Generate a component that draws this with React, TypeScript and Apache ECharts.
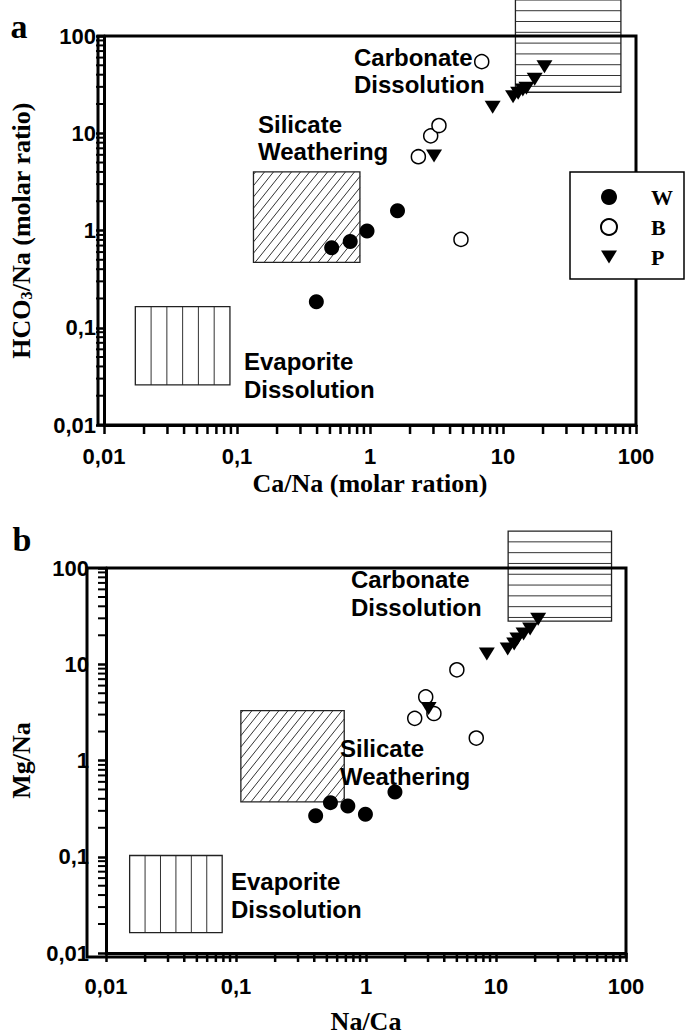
import React, { useEffect, useRef } from "react";
import * as echarts from "echarts";

// ---------- Panel a : HCO3/Na vs Ca/Na ----------
const aW_x = [0.395, 0.515, 0.71, 0.95, 1.61];
const aW_y = [0.185, 0.665, 0.77, 0.99, 1.6];
const aB_x = [2.31, 2.86, 3.3, 4.83, 6.92];
const aB_y = [5.74, 9.4, 12.0, 0.81, 54.5];
const aP_x = [3.03, 8.36, 11.9, 13.0, 14.1, 15.0, 17.3, 20.5];
const aP_y = [5.84, 18.5, 23.8, 25.8, 27.9, 29.0, 35.9, 48.3];

// ---------- Panel b : Mg/Na vs Na/Ca ----------
const bW_x = [0.41, 0.533, 0.725, 0.99, 1.67];
const bW_y = [0.266, 0.365, 0.337, 0.277, 0.471];
const bB_x = [2.37, 2.88, 3.33, 5.0, 7.05];
const bB_y = [2.74, 4.58, 3.08, 8.75, 1.71];
const bP_x = [3.03, 8.5, 12.3, 13.8, 14.6, 16.3, 18.3, 21.1];
const bP_y = [3.47, 12.8, 14.4, 16.2, 18.3, 20.6, 23.2, 29.4];

// end-member regions: [xMin, xMax, yMin, yMax, pattern] pattern 0=horizontal,1=diagonal,2=vertical
const regionNames = ["Carbonate", "Silicate", "Evaporite"];
const aRegions = [
  [12.4, 77, 26.4, 235, 0],
  [0.133, 0.84, 0.47, 4.0, 1],
  [0.0172, 0.0885, 0.0258, 0.165, 2],
];
const bRegions = [
  [12.4, 77.4, 28, 242, 0],
  [0.109, 0.68, 0.372, 3.29, 1],
  [0.0152, 0.0783, 0.0163, 0.103, 2],
];

// axis ticks
const tickValues = [0.01, 0.1, 1, 10, 100];
const tickLabels = ["0,01", "0,1", "1", "10", "100"];
const minorDecades = [0.01, 0.1, 1, 10];
const minorMultipliers = [2, 3, 4, 5, 6, 7, 8, 9];

const seriesNames = ["W", "B", "P"];

const SANS = "Liberation Sans";
const SERIF = "Liberation Serif";

const zip = (xs: number[], ys: number[]) => xs.map((x, i) => [x, ys[i]]);

const minorValues: number[] = [];
minorDecades.forEach((d) => minorMultipliers.forEach((m) => minorValues.push(+(d * m).toPrecision(3))));

function renderRegion(params: any, api: any) {
  const x0 = api.value(0), x1 = api.value(1), y0 = api.value(2), y1 = api.value(3), pat = api.value(4);
  const tl = api.coord([x0, y1]);
  const br = api.coord([x1, y0]);
  const left = tl[0], top = tl[1], right = br[0], bottom = br[1];
  const w = right - left, h = bottom - top;
  const ls = { stroke: "#333", lineWidth: 1 };
  const children: any[] = [];
  if (pat === 0) {
    for (let y = top + 10.8; y < bottom - 2; y += 10.8) {
      children.push({ type: "line", shape: { x1: left, y1: y, x2: right, y2: y }, style: ls });
    }
  } else if (pat === 2) {
    for (let i = 1; i < 6; i++) {
      const x = left + (w * i) / 6;
      children.push({ type: "line", shape: { x1: x, y1: top, x2: x, y2: bottom }, style: ls });
    }
  } else {
    const r = 0.8;
    const s = 9;
    for (let c = left - h * r + 2; c < right; c += s) {
      let sx: number, sy: number, ex: number, ey: number;
      if (c >= left) { sx = c; sy = bottom; } else { sx = left; sy = bottom - (left - c) / r; }
      if (c + h * r <= right) { ex = c + h * r; ey = top; } else { ex = right; ey = bottom - (right - c) / r; }
      children.push({ type: "line", shape: { x1: sx, y1: sy, x2: ex, y2: ey }, style: ls });
    }
  }
  children.push({
    type: "rect",
    shape: { x: left, y: top, width: w, height: h },
    style: { fill: "none", stroke: "#222", lineWidth: 1.3 },
  });
  return { type: "group", children };
}

function renderXMinor(params: any, api: any) {
  const p = api.coord([api.value(0), api.value(1)]);
  return { type: "line", shape: { x1: p[0], y1: p[1], x2: p[0], y2: p[1] + 9 }, style: { stroke: "#000", lineWidth: 2.5 } };
}
function renderYMinor(params: any, api: any) {
  const p = api.coord([api.value(0), api.value(1)]);
  return { type: "line", shape: { x1: p[0], y1: p[1], x2: p[0] - 8, y2: p[1] }, style: { stroke: "#000", lineWidth: 2 } };
}

const labelFmt = (v: number) => {
  const i = Math.round(Math.log10(v)) + 2;
  return tickLabels[i] ?? "";
};

function makeXAxis(gridIndex: number, name: string, labelMargin: number, nameGap: number) {
  return {
    type: "log",
    logBase: 10,
    gridIndex,
    min: tickValues[0],
    max: tickValues[tickValues.length - 1],
    name,
    nameLocation: "middle",
    nameGap,
    nameTextStyle: { fontFamily: SERIF, fontWeight: "bold", fontSize: 26, color: "#000" },
    axisLine: { show: true, lineStyle: { color: "#000", width: 3 } },
    axisTick: { show: true, inside: false, length: 9, lineStyle: { color: "#000", width: 2.5 } },
    minorTick: { show: false },
    splitLine: { show: false },
    axisLabel: {
      formatter: labelFmt,
      margin: labelMargin,
      fontFamily: SANS,
      fontWeight: "bold",
      fontSize: 22,
      color: "#000",
      showMinLabel: true,
      showMaxLabel: true,
    },
  };
}

function makeYAxis(gridIndex: number, name: string, labelMargin: number, nameGap: number) {
  return {
    type: "log",
    logBase: 10,
    gridIndex,
    min: tickValues[0],
    max: tickValues[tickValues.length - 1],
    name,
    nameLocation: "middle",
    nameGap,
    nameRotate: 90,
    nameTextStyle: {
      fontFamily: SERIF,
      fontWeight: "bold",
      fontSize: 26,
      color: "#000",
      rich: {
        sub: { fontFamily: SERIF, fontWeight: "bold", fontSize: 16, color: "#000", verticalAlign: "bottom", lineHeight: 10 },
      },
    },
    axisLine: { show: true, lineStyle: { color: "#000", width: 3 } },
    axisTick: { show: true, inside: false, length: 8, lineStyle: { color: "#000", width: 2.5 } },
    minorTick: { show: false },
    splitLine: { show: false },
    axisLabel: {
      formatter: labelFmt,
      margin: labelMargin,
      fontFamily: SANS,
      fontWeight: "bold",
      fontSize: 22,
      color: "#000",
      showMinLabel: true,
      showMaxLabel: true,
    },
  };
}

const TRI = "path://M0,0L16,0L8,13Z";

function pointSeries(g: number, w: number[][], b: number[][], p: number[][]) {
  return [
    { type: "scatter", name: seriesNames[0], xAxisIndex: g, yAxisIndex: g, data: w, symbol: "circle", symbolSize: 15, itemStyle: { color: "#000", opacity: 1 }, z: 6, silent: true },
    { type: "scatter", name: seriesNames[1], xAxisIndex: g, yAxisIndex: g, data: b, symbol: "circle", symbolSize: 14, itemStyle: { color: "#fff", borderColor: "#000", borderWidth: 1.5, opacity: 1 }, z: 6, silent: true },
    { type: "scatter", name: seriesNames[2], xAxisIndex: g, yAxisIndex: g, data: p, symbol: TRI, symbolSize: [16, 13], itemStyle: { color: "#000", opacity: 1 }, z: 6, silent: true },
  ];
}

function helperSeries(g: number, regions: number[][]) {
  return [
    {
      type: "custom",
      xAxisIndex: g,
      yAxisIndex: g,
      clip: false,
      silent: true,
      z: 3,
      encode: { x: [0, 1], y: [2, 3] },
      data: regions.map((r, i) => ({ name: regionNames[i], value: r })),
      renderItem: renderRegion,
    },
    {
      type: "custom",
      xAxisIndex: g,
      yAxisIndex: g,
      clip: false,
      silent: true,
      z: 4,
      encode: { x: 0, y: 1 },
      data: minorValues.map((v) => [v, tickValues[0]]),
      renderItem: renderXMinor,
    },
    {
      type: "custom",
      xAxisIndex: g,
      yAxisIndex: g,
      clip: false,
      silent: true,
      z: 4,
      encode: { x: 0, y: 1 },
      data: minorValues.map((v) => [tickValues[0], v]),
      renderItem: renderYMinor,
    },
  ];
}

// grid rectangles (px)
const gridA = { left: 98, top: 36, width: 538, height: 389 };
const gridB = { left: 87, top: 568, width: 539, height: 389 };

const annotationFont = { fontFamily: SANS, fontWeight: "bold", fontSize: 24 };
const annotations = [
  { text: "Carbonate", x: 354, y: 57 },
  { text: "Dissolution", x: 354, y: 84 },
  { text: "Silicate", x: 258, y: 124 },
  { text: "Weathering", x: 258, y: 151 },
  { text: "Evaporite", x: 244, y: 361 },
  { text: "Dissolution", x: 244, y: 389 },
  { text: "Carbonate", x: 351, y: 579 },
  { text: "Dissolution", x: 351, y: 607 },
  { text: "Silicate", x: 340, y: 748 },
  { text: "Weathering", x: 340, y: 776 },
  { text: "Evaporite", x: 231, y: 881 },
  { text: "Dissolution", x: 231, y: 909 },
];

export default function App() {
  const ref = useRef<HTMLDivElement>(null);
  useEffect(() => {
    if (!ref.current) return;
    const chart = echarts.init(ref.current, undefined, { renderer: "svg" });
    const graphic: any[] = [];
    [gridA, gridB].forEach((g) => {
      graphic.push({
        type: "rect",
        z: 10,
        silent: true,
        shape: { x: g.left, y: g.top, width: g.width, height: g.height },
        style: { fill: "none", stroke: "#000", lineWidth: 3 },
      });
    });
    annotations.forEach((a) => {
      graphic.push({
        type: "text",
        z: 11,
        silent: true,
        x: a.x,
        y: a.y,
        style: { text: a.text, ...annotationFont, fill: "#000", align: "left", verticalAlign: "middle" },
      });
    });
    graphic.push({
      type: "text", z: 11, silent: true, x: 19, y: 26,
      style: { text: "a", fontFamily: SERIF, fontWeight: "bold", fontSize: 34, fill: "#000", align: "center", verticalAlign: "middle" },
    });
    graphic.push({
      type: "text", z: 11, silent: true, x: 22, y: 539,
      style: { text: "b", fontFamily: SERIF, fontWeight: "bold", fontSize: 34, fill: "#000", align: "center", verticalAlign: "middle" },
    });

    chart.setOption({
      animation: false,
      backgroundColor: "#fff",
      grid: [
        { ...gridA, containLabel: false },
        { ...gridB, containLabel: false },
      ],
      xAxis: [
        makeXAxis(0, "Ca/Na (molar ration)", 20, 45),
        makeXAxis(1, "Na/Ca", 22, 55),
      ],
      yAxis: [
        makeYAxis(0, "HCO{sub|3}/Na (molar ratio)", 8, 70),
        makeYAxis(1, "Mg/Na", 17, 72),
      ],
      legend: {
        orient: "vertical",
        left: 570,
        top: 172,
        padding: [14, 11, 11, 30],
        itemWidth: 16,
        itemHeight: 16,
        itemGap: 8,
        backgroundColor: "#fff",
        borderColor: "#000",
        borderWidth: 1.5,
        selectedMode: false,
        z: 20,
        textStyle: { fontFamily: SERIF, fontWeight: "bold", fontSize: 22, lineHeight: 22, color: "#000", padding: [0, 0, 0, 29] },
        data: seriesNames,
      },
      graphic,
      series: [
        ...helperSeries(0, aRegions),
        ...helperSeries(1, bRegions),
        ...pointSeries(0, zip(aW_x, aW_y), zip(aB_x, aB_y), zip(aP_x, aP_y)),
        ...pointSeries(1, zip(bW_x, bW_y), zip(bB_x, bB_y), zip(bP_x, bP_y)),
      ],
    });
    return () => chart.dispose();
  }, []);
  return <div ref={ref} style={{ position: "absolute", left: 0, top: 0, width: 685, height: 1035 }} />;
}
